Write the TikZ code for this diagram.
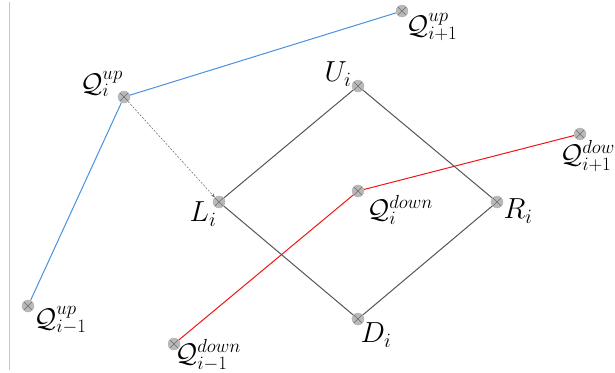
\RequirePackage{fix-cm}
\documentclass[tikz,border=0pt]{standalone}
\usetikzlibrary{arrows.meta}
\definecolor{qblue}{RGB}{74,144,226}
\definecolor{qred}{RGB}{240,20,20}
\definecolor{sqgray}{RGB}{85,85,85}
\tikzset{
  pt/.style={circle, inner sep=0pt, minimum size=12pt, fill=gray!55, draw=gray!60,
    path picture={\draw[gray!85!black, line width=0.4pt]
      (path picture bounding box.south west) -- (path picture bounding box.north east)
      (path picture bounding box.north west) -- (path picture bounding box.south east);}},
  qlab/.style={inner sep=0pt, font=\fontsize{27}{32}\selectfont},
  blab/.style={inner sep=0pt, font=\fontsize{29}{34}\selectfont},
  blueline/.style={draw=qblue, line width=1pt},
  redline/.style={draw=qred, line width=1pt},
  sqline/.style={draw=sqgray, line width=1pt},
  dashline/.style={draw=gray!80!black, line width=0.5pt, dash pattern=on 2pt off 1.5pt,
    -{Stealth[length=4pt,width=3pt]}}
}
\begin{document}
\begin{tikzpicture}[x=1pt,y=-1pt]
\useasboundingbox (0,0) rectangle (615,372);
\coordinate (vt) at (9,2);
\coordinate (vb) at (9,370);
\draw[gray!45, line width=0.8pt] (vt) -- (vb);

\node[pt] (Qup1) at (402,11) {};
\node[pt] (Qu) at (124,97) {};
\node[pt] (Qum1) at (28,306) {};
\node[pt] (U) at (358,86) {};
\node[pt] (L) at (219,202) {};
\node[pt] (R) at (497,202) {};
\node[pt] (D) at (358,319) {};
\node[pt] (Qd) at (358,191) {};
\node[pt] (Qdp1) at (580,134) {};
\node[pt] (Qdm1) at (174,344) {};

\draw[blueline] (Qum1) -- (Qu) -- (Qup1);
\draw[redline] (Qdm1) -- (Qd) -- (Qdp1);
\draw[sqline] (U) -- (L) -- (D) -- (R) -- (U);
\draw[dashline] (Qu) -- (L);

\node[qlab, anchor=west] (lQup1) at (406,27) {$\mathcal{Q}_{i+1}^{up}$};
\node[qlab, anchor=east] (lQu) at (123,84) {$\mathcal{Q}_{i}^{up}$};
\node[qlab, anchor=west] (lQum1) at (34,320) {$\mathcal{Q}_{i-1}^{up}$};
\node[blab] (lU) at (338,74) {$U_i$};
\node[blab] (lL) at (203,214) {$L_i$};
\node[blab] (lR) at (518,211) {$R_i$};
\node[blab] (lD) at (376,335) {$D_i$};
\node[qlab, anchor=west] (lQd) at (367,210) {$\mathcal{Q}_{i}^{down}$};
\node[qlab, anchor=west] (lQdp1) at (560,156) {$\mathcal{Q}_{i+1}^{down}$};
\node[qlab, anchor=west] (lQdm1) at (175,355) {$\mathcal{Q}_{i-1}^{down}$};
\end{tikzpicture}
\end{document}
